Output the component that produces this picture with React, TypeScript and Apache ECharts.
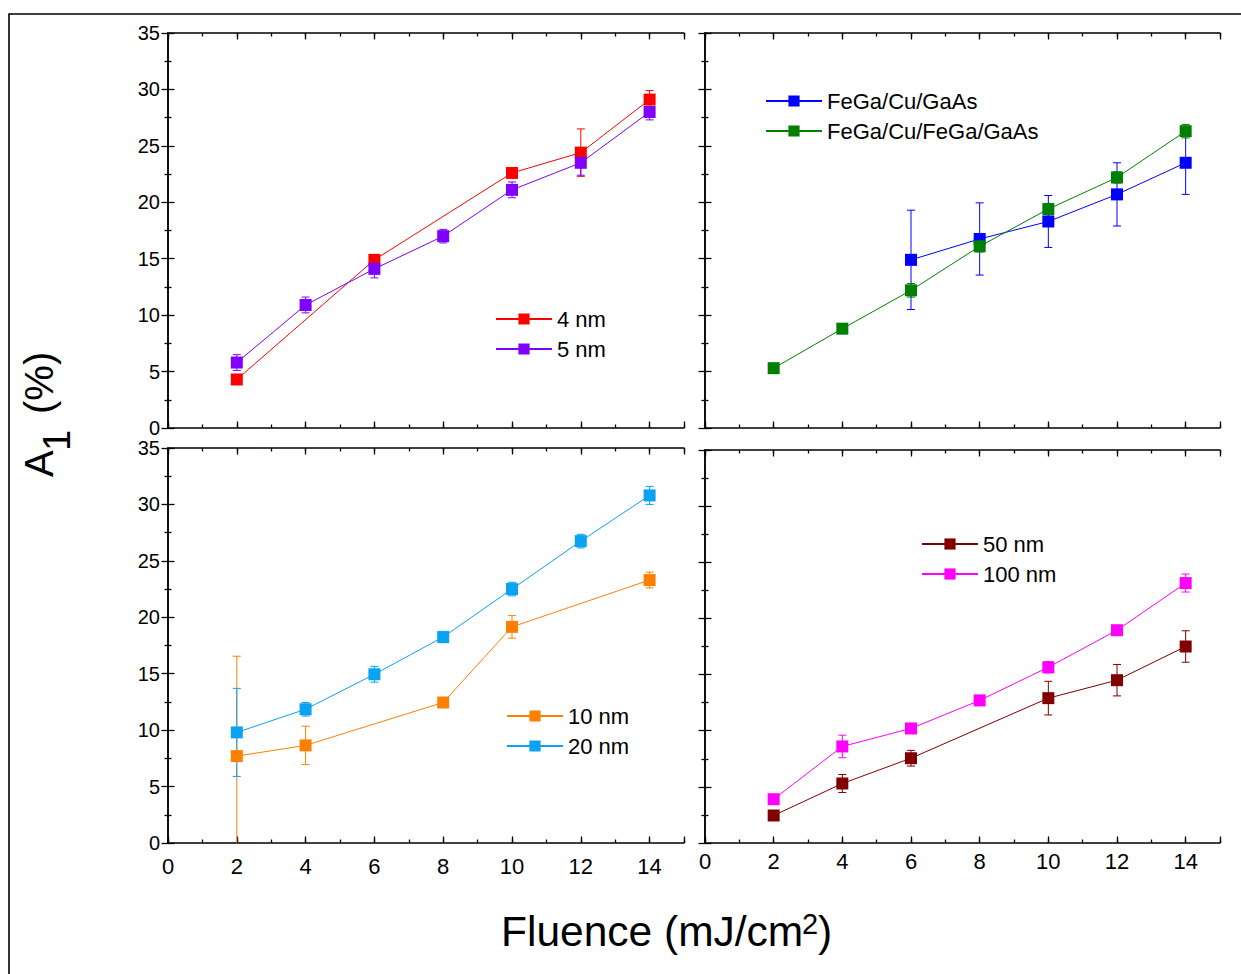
import React, { useEffect, useRef } from 'react';
import * as echarts from 'echarts';

const FONT = '"Liberation Sans", Arial, Helvetica, sans-serif';

const fluence = [2, 4, 6, 8, 10, 12, 14];

// Panel (a): 4 nm / 5 nm
const a4nm = [4.3, null, 14.9, null, 22.6, 24.4, 29.1];
const a4nmErr = [0, null, 0, null, 0, 2.1, 0.8];
const a5nm = [5.8, 10.9, 14.1, 17.0, 21.1, 23.5, 28.0];
const a5nmErr = [0.7, 0.7, 0.8, 0.6, 0.7, 1.1, 0.7];

// Panel (b): FeGa/Cu/GaAs and FeGa/Cu/FeGa/GaAs
const feGaCuGaAs = [null, null, 14.9, 16.75, 18.3, 20.7, 23.5];
const feGaCuGaAsErr = [null, null, 4.4, 3.2, 2.3, 2.8, 2.8];
const feGaCuFeGaGaAs = [5.3, 8.8, 12.2, 16.1, 19.4, 22.2, 26.3];
const feGaCuFeGaGaAsErr = [0, 0.4, 0.6, 0.5, 0.5, 0.5, 0.6];

// Panel (c): 10 nm / 20 nm
const a10nm = [7.7, 8.65, null, 12.45, 19.15, null, 23.3];
const a10nmErr = [8.85, 1.7, null, 0.4, 1.0, null, 0.7];
const a20nm = [9.8, 11.85, 14.95, 18.25, 22.5, 26.75, 30.8];
const a20nmErr = [3.9, 0.6, 0.7, 0.5, 0.6, 0.6, 0.8];

// Panel (d): 50 nm / 100 nm
const a50nm = [2.45, 5.3, 7.55, null, 12.9, 14.5, 17.5];
const a50nmErr = [0, 0.8, 0.7, null, 1.5, 1.4, 1.4];
const a100nm = [3.9, 8.6, 10.2, 12.7, 15.65, 18.95, 23.15];
const a100nmErr = [0, 1.0, 0.4, 0.3, 0.5, 0.4, 0.8];

const xMin = 0, xMax = 15, xInterval = 2;
const yMin = 0, yMax = 35, yInterval = 5;

const LABEL_SIZE = 22;
const Y_LABEL_SIZE = 20;

const panels = [
  {
    grid: { left: 168, top: 33, width: 516, height: 395 },
    xLabels: false, yLabels: true, xLabelMargin: 10,
    legend: { left: 495, top: 308 },
    series: [
      { name: '4 nm', color: '#ff0000', values: a4nm, errors: a4nmErr },
      { name: '5 nm', color: '#8000ff', values: a5nm, errors: a5nmErr },
    ],
  },
  {
    grid: { left: 705, top: 33, width: 515, height: 395 },
    xLabels: false, yLabels: false, xLabelMargin: 10,
    legend: { left: 765, top: 90 },
    series: [
      { name: 'FeGa/Cu/GaAs', color: '#0000ff', values: feGaCuGaAs, errors: feGaCuGaAsErr },
      { name: 'FeGa/Cu/FeGa/GaAs', color: '#008000', values: feGaCuFeGaGaAs, errors: feGaCuFeGaGaAsErr },
    ],
  },
  {
    grid: { left: 168, top: 448, width: 516, height: 395 },
    xLabels: true, yLabels: true, xLabelMargin: 12,
    legend: { left: 506, top: 705 },
    series: [
      { name: '10 nm', color: '#ff8000', values: a10nm, errors: a10nmErr },
      { name: '20 nm', color: '#0aa2f2', values: a20nm, errors: a20nmErr },
    ],
  },
  {
    grid: { left: 705, top: 450, width: 515, height: 393 },
    xLabels: true, yLabels: false, xLabelMargin: 7,
    legend: { left: 921, top: 533 },
    series: [
      { name: '50 nm', color: '#800000', values: a50nm, errors: a50nmErr },
      { name: '100 nm', color: '#ff00ff', values: a100nm, errors: a100nmErr },
    ],
  },
];

const axisLine = { show: true, lineStyle: { color: '#000', width: 1.5 } };

function buildOption() {
  const grid: any[] = [];
  const xAxis: any[] = [];
  const yAxis: any[] = [];
  const legend: any[] = [];
  const series: any[] = [];

  panels.forEach((p, i) => {
    grid.push({ ...p.grid, containLabel: false });
    const base = { type: 'value', gridIndex: i, min: xMin, max: xMax, splitLine: { show: false } };
    // bottom major
    xAxis.push({
      ...base, position: 'bottom', interval: xInterval,
      axisLine,
      axisTick: { show: true, inside: true, length: 6.5, lineStyle: { color: '#000', width: 1.3 } },
      axisLabel: {
        show: p.xLabels, fontSize: LABEL_SIZE, fontFamily: FONT, color: '#000', margin: p.xLabelMargin,
        formatter: (v: number) => (v % 2 === 0 ? String(v) : ''),
      },
    });
    // bottom minor
    xAxis.push({
      ...base, position: 'bottom', interval: 1,
      axisLine: { show: false },
      axisTick: { show: true, inside: true, length: 3.5, lineStyle: { color: '#000', width: 1.3 } },
      axisLabel: { show: false },
    });
    // top major
    xAxis.push({
      ...base, position: 'top', interval: xInterval,
      axisLine,
      axisTick: { show: true, inside: true, length: 6.5, lineStyle: { color: '#000', width: 1.3 } },
      axisLabel: { show: false },
    });
    // top minor
    xAxis.push({
      ...base, position: 'top', interval: 1,
      axisLine: { show: false },
      axisTick: { show: true, inside: true, length: 3.5, lineStyle: { color: '#000', width: 1.3 } },
      axisLabel: { show: false },
    });
    const ybase = {
      type: 'value', gridIndex: i, min: yMin, max: yMax, interval: yInterval,
      splitLine: { show: false }, minorSplitLine: { show: false },
      axisLine,
      axisTick: { show: true, inside: true, length: 6.5, lineStyle: { color: '#000', width: 1.3 } },
      minorTick: { show: true, splitNumber: 2, length: 3.5, lineStyle: { color: '#000', width: 1.3 } },
    };
    yAxis.push({
      ...ybase, position: 'left',
      axisLabel: { show: p.yLabels, fontSize: Y_LABEL_SIZE, fontFamily: FONT, color: '#000', margin: 8 },
    });
    yAxis.push({ ...ybase, position: 'right', axisLabel: { show: false } });

    legend.push({
      orient: 'vertical', left: p.legend.left, top: p.legend.top,
      itemWidth: 56, itemHeight: 14, itemGap: 8, padding: 0,
      selectedMode: false,
      data: p.series.map((s) => s.name),
      textStyle: { fontSize: LABEL_SIZE, lineHeight: 22, fontFamily: FONT, color: '#000' },
    });

    p.series.forEach((s) => {
      const pts: number[][] = [];
      const bars: number[][] = [];
      fluence.forEach((x, k) => {
        const v = s.values[k];
        if (v === null || v === undefined) return;
        pts.push([x, v]);
        const e = s.errors[k] || 0;
        bars.push([x, v - e, v + e]);
      });
      series.push({
        name: s.name + ' error',
        type: 'custom',
        xAxisIndex: 4 * i, yAxisIndex: 2 * i,
        clip: true, z: 2, silent: true,
        encode: { x: 0, y: [1, 2] },
        data: bars,
        renderItem: (params: any, api: any) => {
          const x = api.value(0);
          const lo = api.value(1);
          const hi = api.value(2);
          const a = api.coord([x, hi]);
          const b = api.coord([x, lo]);
          const hw = 4;
          const st = { stroke: s.color, lineWidth: 1, fill: null };
          return {
            type: 'group',
            children: [
              { type: 'line', shape: { x1: a[0], y1: a[1], x2: b[0], y2: b[1] }, style: st },
              { type: 'line', shape: { x1: a[0] - hw, y1: a[1], x2: a[0] + hw, y2: a[1] }, style: st },
              { type: 'line', shape: { x1: b[0] - hw, y1: b[1], x2: b[0] + hw, y2: b[1] }, style: st },
            ],
          };
        },
      });
      series.push({
        name: s.name,
        type: 'line',
        xAxisIndex: 4 * i, yAxisIndex: 2 * i,
        data: pts,
        symbol: 'rect', symbolSize: 12,
        itemStyle: { color: s.color },
        lineStyle: { color: s.color, width: 1 },
        z: 3,
      });
    });
  });

  const title = { fill: '#000', fontFamily: FONT, verticalAlign: 'middle', align: 'left' };

  const graphic: any[] = [
    {
      type: 'rect', x: 9, y: 14,
      shape: { x: 0, y: 0, width: 1260, height: 990 },
      style: { fill: 'none', stroke: '#000', lineWidth: 1.6 },
      z: 0, silent: true,
    },
    {
      type: 'group', x: 53, y: 477, rotation: Math.PI / 2,
      children: [
        { type: 'text', x: 0, y: -14, style: { ...title, text: 'A', fontSize: 40 } },
        { type: 'text', x: 26, y: 4, style: { ...title, text: '1', fontSize: 38 } },
        { type: 'text', x: 63, y: -14, style: { ...title, text: '(%)', fontSize: 40 } },
      ],
    },
    { type: 'text', x: 501, y: 931, style: { ...title, text: 'Fluence (mJ/cm', fontSize: 42.5 } },
    { type: 'text', x: 802, y: 924, style: { ...title, text: '2', fontSize: 29 } },
    { type: 'text', x: 818, y: 931, style: { ...title, text: ')', fontSize: 42.5 } },
  ];

  return {
    animation: false,
    backgroundColor: '#fff',
    textStyle: { fontFamily: FONT },
    grid, xAxis, yAxis, legend, series, graphic,
  };
}

export default function App() {
  const ref = useRef<HTMLDivElement>(null);
  useEffect(() => {
    if (!ref.current) return;
    const chart = echarts.init(ref.current, undefined, { renderer: 'svg' });
    chart.setOption(buildOption() as any);
    return () => chart.dispose();
  }, []);
  return (
    <div
      ref={ref}
      style={{ position: 'fixed', left: 0, top: 0, width: 1241, height: 974, background: '#fff' }}
    />
  );
}
